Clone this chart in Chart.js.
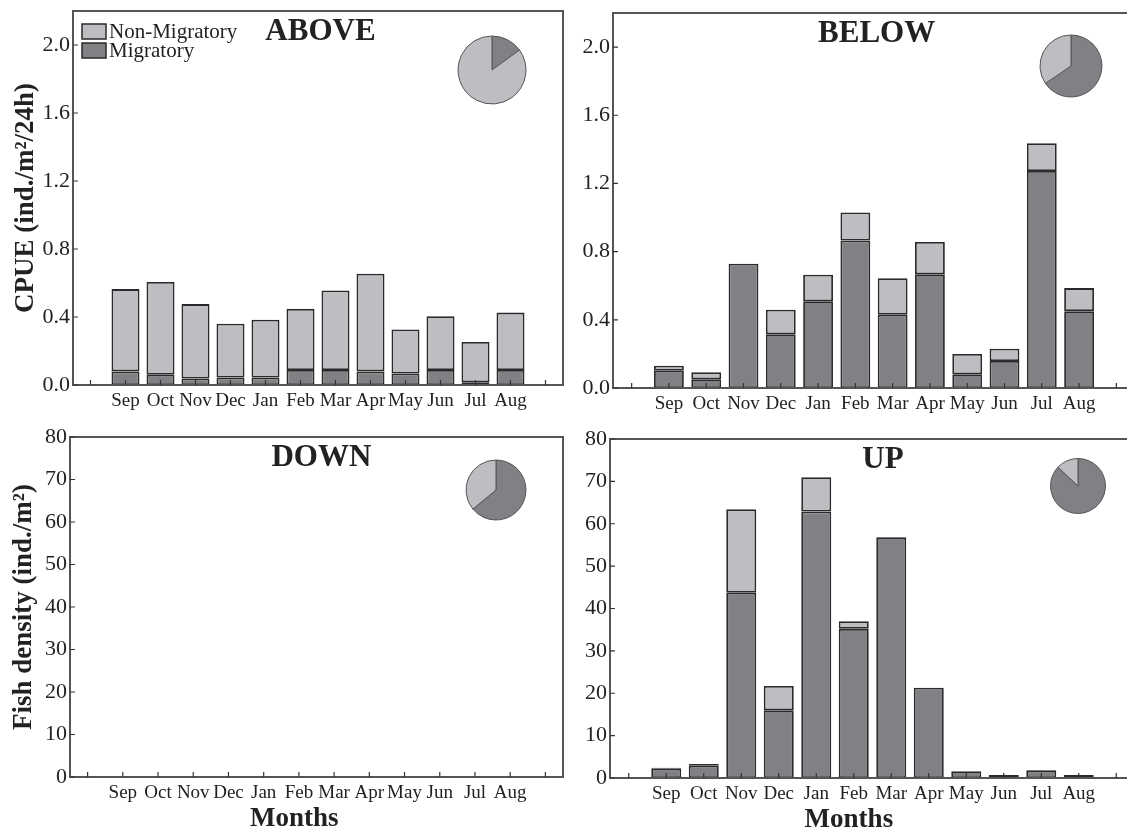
<!DOCTYPE html>
<html>
<head>
<meta charset="utf-8">
<script src="https://cdn.jsdelivr.net/npm/chart.js@4.4.1/dist/chart.umd.min.js"></script>
<style>
  body { margin: 0; background: #fff; }
  #wrap { position: relative; width: 1127px; height: 833px; overflow: hidden; background: #fff; }
  canvas { position: absolute; }
</style>
</head>
<body>
<div id="wrap">
  <canvas id="above" width="570" height="415" style="left:0;top:0"></canvas>
  <canvas id="below" width="580" height="415" style="left:560px;top:0"></canvas>
  <canvas id="down" width="570" height="413" style="left:0;top:420px"></canvas>
  <canvas id="up" width="580" height="413" style="left:560px;top:420px"></canvas>
  <canvas id="abovePie" width="72" height="72" style="left:456px;top:34px"></canvas>
  <canvas id="belowPie" width="66" height="66" style="left:1038px;top:33px"></canvas>
  <canvas id="downPie" width="64" height="64" style="left:464px;top:458px"></canvas>
  <canvas id="upPie" width="60" height="60" style="left:1048px;top:456px"></canvas>
</div>
<script>
const months = ['Sep', 'Oct', 'Nov', 'Dec', 'Jan', 'Feb', 'Mar', 'Apr', 'May', 'Jun', 'Jul', 'Aug'];
// one empty slot on each side of the twelve months
const slots = ['', ...months, ''];

const cpueTicks = [0, 0.4, 0.8, 1.2, 1.6, 2.0];
const densityTicks = [0, 10, 20, 30, 40, 50, 60, 70, 80];

// CPUE (ind./m2/24h)
const aboveMig = [0.080, 0.060, 0.038, 0.044, 0.044, 0.088, 0.088, 0.080, 0.068, 0.088, 0.016, 0.088];
const aboveNon = [0.484, 0.546, 0.438, 0.317, 0.340, 0.360, 0.468, 0.575, 0.259, 0.316, 0.237, 0.338];
const belowMig = [0.101, 0.051, 0.729, 0.315, 0.509, 0.865, 0.430, 0.667, 0.081, 0.158, 1.273, 0.451];
const belowNon = [0.030, 0.042, 0, 0.144, 0.156, 0.165, 0.214, 0.190, 0.119, 0.072, 0.163, 0.135];

// fish density (ind./m2)
const downMig = [0, 0, 0, 0, 0, 0, 0, 0, 0, 0, 0, 0];
const downNon = [0, 0, 0, 0, 0, 0, 0, 0, 0, 0, 0, 0];
const upMig = [2.2, 2.9, 43.7, 16.0, 62.9, 35.2, 56.7, 21.3, 1.6, 0.7, 1.7, 0.7];
const upNon = [0.2, 0.4, 19.7, 5.7, 8.1, 1.8, 0.2, 0, 0, 0, 0.2, 0];

// share of migratory / non-migratory (%)
const abovePie = [15, 85];
const belowPie = [65.5, 34.5];
const downPie = [64, 36];
const upPie = [87, 13];

const colors = {
    light: '#bdbec2',
    dark: '#808185',
    edge: '#2a2a2a',
    axis: '#555',
    text: '#222'
};
const serif = "'Liberation Serif', 'Times New Roman', serif";

// frame, inward ticks, panel title, legend, "Months"
const panelDecor = {
    id: 'panelDecor',
    afterDatasetsDraw(chart, args, opts) {
        const ctx = chart.ctx;
        const area = chart.chartArea;
        const sx = chart.scales.x;
        const sy = chart.scales.y;
        ctx.save();
        ctx.strokeStyle = colors.axis;
        ctx.lineWidth = 2;
        ctx.strokeRect(area.left, area.top, area.right - area.left, area.bottom - area.top);
        ctx.lineWidth = 1.2;
        ctx.strokeStyle = '#333';
        ctx.beginPath();
        sx.ticks.forEach((t, i) => {
            const px = sx.getPixelForTick(i);
            ctx.moveTo(px, area.bottom);
            ctx.lineTo(px, area.bottom - 5);
        });
        sy.ticks.forEach((t, i) => {
            const py = sy.getPixelForTick(i);
            ctx.moveTo(area.left, py);
            ctx.lineTo(area.left + 5, py);
        });
        ctx.stroke();

        ctx.fillStyle = colors.text;
        ctx.textAlign = 'center';
        ctx.textBaseline = 'middle';
        ctx.font = 'bold 31px ' + serif;
        ctx.fillText(opts.title, area.left + (area.right - area.left) * opts.titleAt, area.top + 21);

        if (opts.xTitle) {
            ctx.font = 'bold 27px ' + serif;
            ctx.fillText(opts.xTitle, area.left + (area.right - area.left) * 0.455, area.bottom + 42);
        }

        if (opts.legend) {
            const items = [['Non-Migratory', colors.light], ['Migratory', colors.dark]];
            ctx.textAlign = 'left';
            ctx.font = '21px ' + serif;
            items.forEach(([label, fill], i) => {
                const bx = area.left + 9;
                const by = area.top + 13 + i * 19;
                ctx.fillStyle = fill;
                ctx.fillRect(bx, by, 24, 15);
                ctx.strokeStyle = colors.edge;
                ctx.lineWidth = 1.5;
                ctx.strokeRect(bx, by, 24, 15);
                ctx.fillStyle = colors.text;
                ctx.fillText(label, bx + 27, by + 8);
            });
        }
        ctx.restore();
    }
};

function padded(values) {
    return [null, ...values.map(v => (v === 0 ? null : v)), null];
}

function barChart(id, mig, non, cfg) {
    const bar = {
        barPercentage: 0.8,
        categoryPercentage: 1,
        borderColor: colors.edge,
        borderWidth: 1.8,
        borderSkipped: false
    };
    return new Chart(document.getElementById(id), {
        type: 'bar',
        data: {
            labels: slots,
            datasets: [
                { label: 'Migratory', data: padded(mig), backgroundColor: colors.dark, ...bar },
                { label: 'Non-Migratory', data: padded(non), backgroundColor: colors.light, ...bar }
            ]
        },
        options: {
            responsive: false,
            animation: false,
            layout: { padding: { left: 0, top: cfg.top, right: cfg.right, bottom: 0 } },
            plugins: {
                legend: { display: false },
                tooltip: { enabled: false },
                panelDecor: { title: cfg.title, titleAt: cfg.titleAt, legend: cfg.legend, xTitle: cfg.xTitle }
            },
            scales: {
                x: {
                    stacked: true,
                    offset: true,
                    grid: { display: false, drawTicks: false },
                    border: { display: true, color: colors.axis, width: 2 },
                    ticks: {
                        autoSkip: false,
                        maxRotation: 0,
                        padding: 5,
                        color: colors.text,
                        font: { family: serif, size: 19 }
                    },
                    afterFit: s => {
                        s.height = cfg.xHeight;
                        s.paddingLeft = 0;
                        s.paddingRight = 0;
                    }
                },
                y: {
                    stacked: true,
                    min: 0,
                    max: cfg.yMax,
                    grid: { display: false, drawTicks: false },
                    border: { display: true, color: colors.axis, width: 2 },
                    afterBuildTicks: s => { s.ticks = cfg.yTicks.map(v => ({ value: v })); },
                    ticks: {
                        padding: 3,
                        color: colors.text,
                        font: { family: serif, size: 22 },
                        callback: v => cfg.yDigits ? v.toFixed(cfg.yDigits) : String(v)
                    },
                    title: {
                        display: !!cfg.yTitle,
                        text: cfg.yTitle,
                        color: colors.text,
                        font: { family: serif, size: 27, weight: 'bold' },
                        padding: { top: cfg.titlePad || 0, bottom: 0 }
                    },
                    afterFit: s => {
                        s.width = cfg.yWidth;
                        s.paddingTop = 0;
                        s.paddingBottom = 0;
                    }
                }
            }
        },
        plugins: [panelDecor]
    });
}

function pieChart(id, values, radius) {
    return new Chart(document.getElementById(id), {
        type: 'pie',
        data: {
            labels: ['Migratory', 'Non-Migratory'],
            datasets: [{
                data: values,
                backgroundColor: [colors.dark, colors.light],
                borderColor: '#555',
                borderWidth: 1
            }]
        },
        options: {
            responsive: false,
            animation: false,
            radius: radius,
            layout: { padding: 0 },
            plugins: { legend: { display: false }, tooltip: { enabled: false } }
        }
    });
}

barChart('above', aboveMig, aboveNon, {
    title: 'ABOVE', titleAt: 0.505, legend: true,
    yTicks: cpueTicks, yMax: 2.2, yDigits: 1, yTitle: 'CPUE (ind./m²/24h)', titlePad: 10,
    top: 11, right: 7, yWidth: 73, xHeight: 30
});
barChart('below', belowMig, belowNon, {
    title: 'BELOW', titleAt: 0.505,
    yTicks: cpueTicks, yMax: 2.2, yDigits: 1,
    top: 13, right: 5, yWidth: 53, xHeight: 27
});
barChart('down', downMig, downNon, {
    title: 'DOWN', titleAt: 0.51, xTitle: 'Months',
    yTicks: densityTicks, yMax: 80, yTitle: 'Fish density (ind./m²)', titlePad: 8,
    top: 17, right: 7, yWidth: 70, xHeight: 56
});
barChart('up', upMig, upNon, {
    title: 'UP', titleAt: 0.52, xTitle: 'Months',
    yTicks: densityTicks, yMax: 80,
    top: 19, right: 5, yWidth: 50, xHeight: 55
});

pieChart('abovePie', abovePie, 34);
pieChart('belowPie', belowPie, 31);
pieChart('downPie', downPie, 30);
pieChart('upPie', upPie, 27.5);
</script>
</body>
</html>
